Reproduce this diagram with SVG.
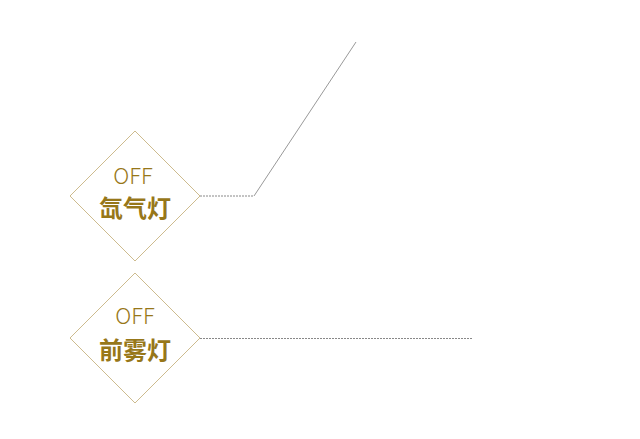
<svg xmlns="http://www.w3.org/2000/svg" width="640" height="439" viewBox="0 0 640 439">
<style>
.dia{fill:#fff;stroke:#cdbb8e;stroke-width:1}
.off{font-family:"Noto Sans CJK SC","Noto Sans",sans-serif;font-size:22px;font-weight:300;fill:#977719;text-anchor:middle}
.name{font-family:"Noto Sans CJK SC",sans-serif;font-size:24px;font-weight:700;fill:#977719;text-anchor:middle}
.dash{fill:none;stroke:#888;stroke-width:1;stroke-dasharray:2,1}
.solid{fill:none;stroke:#999;stroke-width:1}
</style>
<rect width="640" height="439" fill="#fff"/>
<g id="connectors">
<path class="dash" d="M200,196 H254"/>
<path class="solid" d="M254,196 L356,42"/>
<path class="dash" d="M200,338.5 H473"/>
</g>
<g id="node-xenon">
<path class="dia" d="M135,131 L200,196 L135,261 L70,196 Z"/>
<text class="off" x="133" y="184">OFF</text>
<text class="name" x="135" y="217">氙气灯</text>
</g>
<g id="node-fog">
<path class="dia" d="M135,273 L200,338 L135,403 L70,338 Z"/>
<text class="off" x="135" y="324">OFF</text>
<text class="name" x="135" y="359">前雾灯</text>
</g>
</svg>
